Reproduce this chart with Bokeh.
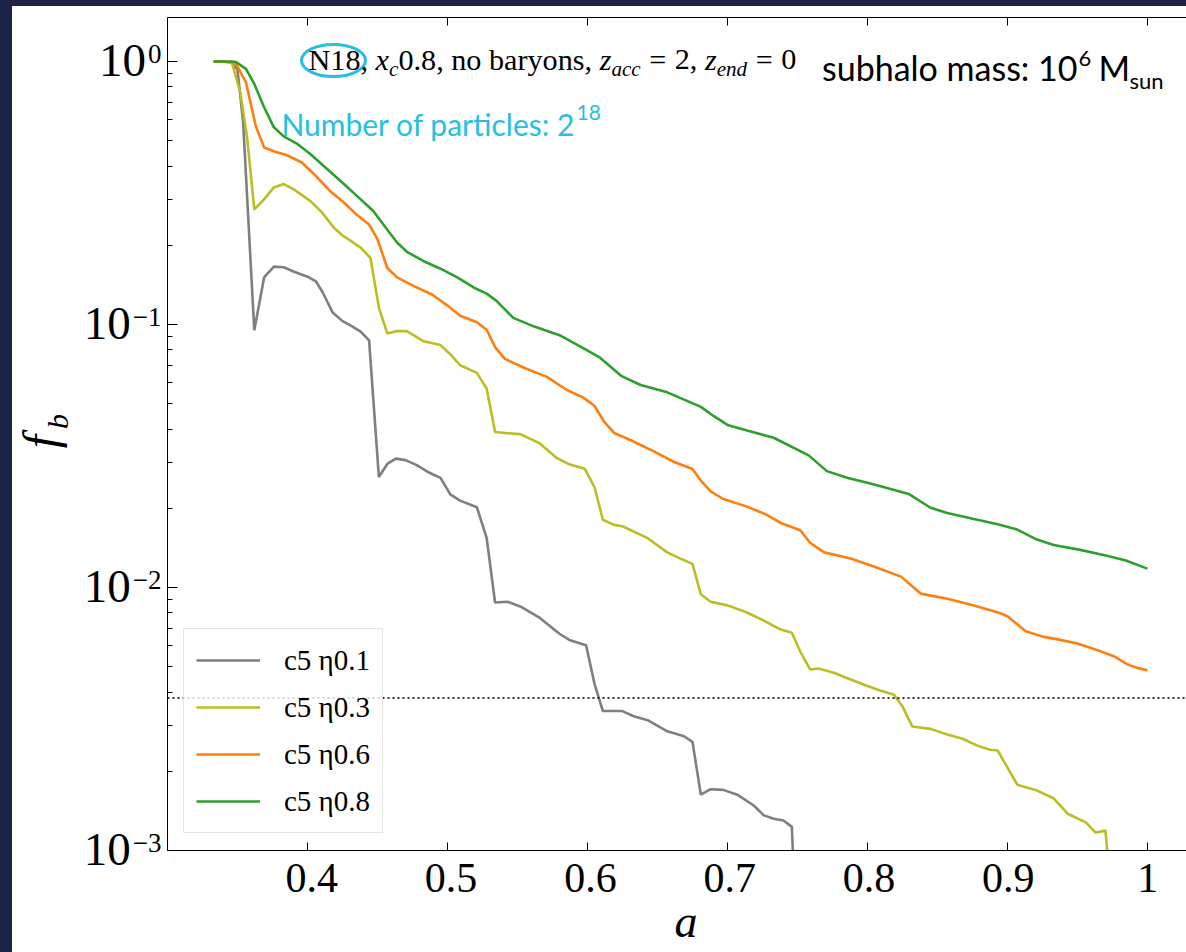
import math
from bokeh.plotting import figure
from bokeh.models import (Range1d, LinearAxis, FixedTicker, Span, Label, Legend,
                          LegendItem, Spacer, CustomJSTickFormatter)
from bokeh.layouts import column, row
from bokeh.embed import file_html
from bokeh.resources import INLINE
from bokeh.core.properties import value

# ---------------- data ----------------
a_eta01 = [0.333, 0.340, 0.346, 0.350, 0.354, 0.362, 0.369, 0.376, 0.383, 0.390,
           0.400, 0.406, 0.411, 0.418, 0.425, 0.431, 0.438, 0.444, 0.451, 0.457,
           0.463, 0.470, 0.478, 0.486, 0.495, 0.502, 0.509, 0.521, 0.528, 0.534,
           0.543, 0.552, 0.566, 0.580, 0.587, 0.599, 0.605, 0.611, 0.625, 0.633,
           0.643, 0.657, 0.669, 0.675, 0.681, 0.688, 0.697, 0.707, 0.719, 0.726,
           0.733, 0.740, 0.746, 0.749]
f_eta01 = [1.0, 1.0, 0.99, 0.93, 0.59, 0.095, 0.151, 0.166, 0.165, 0.159,
           0.152, 0.146, 0.132, 0.111, 0.103, 0.099, 0.094, 0.087, 0.0263, 0.0295,
           0.0309, 0.0305, 0.0292, 0.0275, 0.0261, 0.0226, 0.0214, 0.0202, 0.0154, 0.00877,
           0.00883, 0.00847, 0.00766, 0.00667, 0.00632, 0.00603, 0.00431, 0.00339, 0.00339, 0.00324,
           0.00313, 0.00284, 0.00272, 0.00259, 0.00163, 0.00171, 0.00170, 0.00163, 0.00148, 0.00136,
           0.00132, 0.00130, 0.00123, 0.0005]

a_eta03 = [0.333, 0.340, 0.346, 0.352, 0.357, 0.362, 0.369, 0.376, 0.383, 0.390,
           0.402, 0.410, 0.419, 0.425, 0.432, 0.438, 0.445, 0.451, 0.457, 0.464,
           0.471, 0.483, 0.495, 0.502, 0.509, 0.521, 0.528, 0.534, 0.543, 0.552,
           0.566, 0.578, 0.587, 0.598, 0.605, 0.611, 0.619, 0.625, 0.643, 0.657,
           0.666, 0.675, 0.681, 0.688, 0.700, 0.713, 0.726, 0.738, 0.746, 0.752,
           0.759, 0.765, 0.776, 0.788, 0.799, 0.809, 0.819, 0.825, 0.832, 0.845,
           0.857, 0.868, 0.878, 0.887, 0.893, 0.907, 0.920, 0.933, 0.943, 0.956,
           0.963, 0.970, 0.975]
f_eta03 = [1.0, 1.0, 0.99, 0.764, 0.507, 0.274, 0.299, 0.332, 0.342, 0.327,
           0.295, 0.268, 0.233, 0.218, 0.206, 0.196, 0.179, 0.116, 0.0925, 0.0944,
           0.0944, 0.0863, 0.0835, 0.0771, 0.0700, 0.0655, 0.0570, 0.0390, 0.0386, 0.0383,
           0.0353, 0.0311, 0.0294, 0.0283, 0.0241, 0.0181, 0.0173, 0.0171, 0.0154, 0.0136,
           0.0129, 0.0123, 0.00942, 0.00883, 0.00855, 0.00807, 0.00748, 0.00692, 0.00673, 0.00571,
           0.00488, 0.00492, 0.00474, 0.00447, 0.00424, 0.00406, 0.00391, 0.00353, 0.00296, 0.00290,
           0.00276, 0.00266, 0.00251, 0.00242, 0.00240, 0.00178, 0.00170, 0.00158, 0.00138, 0.00128,
           0.00117, 0.00119, 0.0006]

a_eta06 = [0.333, 0.340, 0.346, 0.349, 0.356, 0.363, 0.369, 0.377, 0.385, 0.396,
           0.406, 0.416, 0.426, 0.435, 0.444, 0.450, 0.457, 0.464, 0.476, 0.489,
           0.500, 0.509, 0.521, 0.528, 0.534, 0.541, 0.555, 0.571, 0.585, 0.597,
           0.605, 0.612, 0.619, 0.631, 0.647, 0.662, 0.675, 0.681, 0.688, 0.697,
           0.714, 0.728, 0.738, 0.752, 0.759, 0.769, 0.788, 0.805, 0.824, 0.838,
           0.857, 0.876, 0.894, 0.900, 0.913, 0.926, 0.936, 0.950, 0.966, 0.976,
           0.986, 0.993, 1.000]
f_eta06 = [1.0, 1.0, 0.995, 0.98, 0.834, 0.570, 0.471, 0.454, 0.441, 0.413,
           0.367, 0.322, 0.291, 0.262, 0.240, 0.211, 0.164, 0.151, 0.140, 0.130,
           0.118, 0.108, 0.102, 0.0955, 0.0820, 0.0740, 0.0683, 0.0632, 0.0565, 0.0527,
           0.0491, 0.0426, 0.0387, 0.0363, 0.0330, 0.0300, 0.0282, 0.0255, 0.0232, 0.0217,
           0.0203, 0.0189, 0.0176, 0.0165, 0.0148, 0.0136, 0.0129, 0.0120, 0.0110, 0.00948,
           0.00906, 0.00855, 0.00802, 0.00778, 0.00682, 0.00649, 0.00635, 0.00612, 0.00573, 0.00548,
           0.00509, 0.00494, 0.00484]

a_eta08 = [0.333, 0.340, 0.346, 0.349, 0.356, 0.362, 0.369, 0.376, 0.383, 0.393,
           0.402, 0.414, 0.426, 0.438, 0.447, 0.455, 0.464, 0.471, 0.483, 0.495,
           0.507, 0.519, 0.528, 0.535, 0.547, 0.562, 0.581, 0.595, 0.609, 0.624,
           0.638, 0.657, 0.681, 0.690, 0.700, 0.714, 0.733, 0.758, 0.771, 0.786,
           0.800, 0.814, 0.830, 0.845, 0.857, 0.876, 0.893, 0.907, 0.920, 0.933,
           0.952, 0.971, 0.984, 1.000]
f_eta08 = [1.0, 1.0, 1.0, 0.995, 0.938, 0.822, 0.670, 0.562, 0.519, 0.485,
           0.445, 0.390, 0.342, 0.299, 0.270, 0.237, 0.205, 0.189, 0.174, 0.163,
           0.151, 0.138, 0.131, 0.123, 0.106, 0.0982, 0.0906, 0.0824, 0.0748, 0.0638,
           0.0589, 0.0552, 0.0486, 0.0449, 0.0415, 0.0395, 0.0371, 0.0318, 0.0277, 0.0261,
           0.0250, 0.0239, 0.0226, 0.0201, 0.0192, 0.0182, 0.0174, 0.0166, 0.0153, 0.0145,
           0.0139, 0.0132, 0.0127, 0.0118]

series_labels = ["c5 η0.1", "c5 η0.3", "c5 η0.6", "c5 η0.8"]
series_colors = ["#7f7f7f", "#bcbd22", "#ff7f0e", "#2ca02c"]
threshold = 0.0038          # dotted line level (1000 particles of 2^18)

x_ticks = [0.4, 0.5, 0.6, 0.7, 0.8, 0.9, 1.0]
x_tick_labels = ["0.4", "0.5", "0.6", "0.7", "0.8", "0.9", "1"]
y_ticks = [0.001, 0.01, 0.1, 1.0]
y_tick_base = ["10", "10", "10", "10"]
y_tick_exp = ["\u22123", "\u22122", "\u22121", "0"]
y_minor = [m * d for d in (0.001, 0.01, 0.1) for m in range(2, 10)]

# ---------------- geometry (page pixels) ----------------
CYAN = "#28BEE2"
SERIF = "Liberation Serif"
SANS = "Lato"
K_SERIF, K_SANS = 0.35, 0.39          # baseline offset below box middle (x font size)
X0, X1 = 0.3, 1.0279
Y0, Y1 = 0.001, 1.47
FL, FT, FB = 167, 17, 850             # frame left / top / bottom on the page
PX_PER_A = 1400.0
DEC = (FB - FT) / (math.log10(Y1) - math.log10(Y0))


def page_to_f(Y):
    return 10 ** (math.log10(Y0) + (FB - Y) / DEC)


def page_to_a(X):
    return X0 + (X - FL) / PX_PER_A


def blank(fig):
    fig.grid.visible = False
    fig.outline_line_color = None
    fig.background_fill_color = "white"
    fig.border_fill_color = "white"


# ---------------- main figure ----------------
p = figure(width=1024, height=849, y_axis_type="log",
           x_range=Range1d(X0, X1), y_range=Range1d(Y0, Y1),
           output_backend="svg", toolbar_location=None,
           min_border_left=5, min_border_right=0, min_border_top=11, min_border_bottom=5)
blank(p)
p.title.visible = False

xa = p.xaxis[0]
xa.ticker = FixedTicker(ticks=x_ticks)
xa.formatter = CustomJSTickFormatter(code="return '';")
xa.major_tick_in = 8
xa.major_tick_out = 0
xa.minor_tick_line_color = None
xa.major_label_text_font_size = "1px"
xa.major_label_standoff = 0
xa.axis_line_color = "black"
xa.major_tick_line_color = "black"

ya = p.yaxis[0]
ya.ticker = FixedTicker(ticks=y_ticks, minor_ticks=y_minor)
ya.formatter = CustomJSTickFormatter(code="return '';")
ya.major_tick_in = 10
ya.major_tick_out = 0
ya.minor_tick_in = 5
ya.minor_tick_out = 0
ya.major_label_text_font_size = "1px"
ya.major_label_standoff = 0
ya.axis_line_color = "black"
ya.major_tick_line_color = "black"
ya.minor_tick_line_color = "black"

top = LinearAxis(ticker=FixedTicker(ticks=x_ticks), formatter=CustomJSTickFormatter(code="return '';"),
                 major_tick_in=8, major_tick_out=0, minor_tick_line_color=None,
                 major_label_text_font_size="1px", major_label_standoff=0,
                 axis_line_color="black", major_tick_line_color="black")
p.add_layout(top, "above")

renderers = []
for a_vals, f_vals, col in zip([a_eta01, a_eta03, a_eta06, a_eta08],
                               [f_eta01, f_eta03, f_eta06, f_eta08], series_colors):
    renderers.append(p.line(a_vals, f_vals, line_color=col, line_width=2.6))

p.add_layout(Span(location=threshold, dimension="width", line_color="#333333",
                  line_dash="2 3", line_width=2.2))

legend = Legend(items=[LegendItem(label=l, renderers=[r]) for l, r in zip(series_labels, renderers)],
                location=(16, 17), margin=0, padding=12, spacing=9,
                glyph_width=64, glyph_height=38, label_height=38, label_standoff=24,
                label_text_font=SERIF, label_text_font_size="29px", label_text_color="black",
                border_line_color="#cccccc", border_line_width=1.2,
                background_fill_color="white", background_fill_alpha=0.8)
p.add_layout(legend)


def lab(txt, X, Ybase, size, font=SERIF, style="normal", color="black", align="left"):
    k = K_SANS if font == SANS else K_SERIF
    Ymid = Ybase - k * size
    p.add_layout(Label(x=X - FL, y=FB - Ymid, x_units="screen", y_units="screen", text=txt,
                       text_font=font, text_font_size=f"{size:.1f}px", text_font_style=style,
                       text_color=color, text_align=align, text_baseline="middle"))


# header line: N18, x_c0.8, no baryons, z_acc = 2, z_end = 0
roman = {'N': .722, '1': .5, '8': .5, ',': .25, ' ': .25, '0': .5, '.': .25, 'n': .5, 'o': .5,
         'b': .5, 'a': .444, 'r': .333, 'y': .5, 's': .389, '=': .564, '2': .5}
ital = {'x': .444, 'c': .444, 'z': .389, 'a': .5, 'e': .444, 'n': .5, 'd': .5}
pieces = [("N18,", "normal", 1.0, 0, 0.0), ("x", "italic", 1.0, 0, 0.25), ("c", "italic", 0.7, 6, 0.0),
          ("0.8, no baryons,", "normal", 1.0, 0, 0.0), ("z", "italic", 1.0, 0, 0.25),
          ("acc", "italic", 0.7, 6, 0.0), ("=", "normal", 1.0, 0, 0.28), ("2,", "normal", 1.0, 0, 0.28),
          ("z", "italic", 1.0, 0, 0.25), ("end", "italic", 0.7, 6, 0.0), ("=", "normal", 1.0, 0, 0.28),
          ("0", "normal", 1.0, 0, 0.28)]
fs = 30.2
X = 308.0
for txt, st, sc, dy, gap in pieces:
    X += gap * fs
    size = fs * sc
    lab(txt, X, 70 + dy, size, style=st)
    table = ital if st == "italic" else roman
    X += sum(table.get(ch, .5) for ch in txt) * size

# ellipse around "N18"
p.ellipse(x=[page_to_a(333)], y=[page_to_f(60)], width=64, height=32,
          width_units="screen", height_units="screen", fill_color=None,
          line_color=CYAN, line_width=3)

# subhalo mass: 10^6 M_sun
lab("subhalo mass: 10", 1077, 80, 34, font=SANS, align="right")
lab("6", 1078, 67, 22, font=SANS)
lab("M", 1098, 80, 34, font=SANS)
lab("sun", 1129, 89, 22, font=SANS)

# Number of particles: 2^18
lab("Number of particles: 2", 575, 135, 30, font=SANS, color=CYAN, align="right")
lab("18", 576, 120, 21, font=SANS, color=CYAN)

# ---------------- left strip: y tick labels and f_b ----------------
LW = 150   # page x 12..162
left = figure(width=LW, height=946, y_axis_type="log",
              x_range=Range1d(0, LW), y_range=Range1d(page_to_f(952), page_to_f(6)),
              x_axis_location=None, y_axis_location=None,
              output_backend="svg", toolbar_location=None,
              min_border=0, min_border_left=0, min_border_right=0, min_border_top=0, min_border_bottom=0)
blank(left)
left.title.visible = False

BASE_FS, EXP_FS = 47, 27
ew = {'0': .5, '1': .5, '2': .5, '3': .5, '\u2212': .564}
exp_w = [sum(ew[c] for c in e) * EXP_FS for e in y_tick_exp]
right_edge = 161 - 12
left.text(x=[right_edge - w - 2 for w in exp_w], y=y_ticks, text=y_tick_base,
          text_font=value(SERIF), text_font_size=value(f"{BASE_FS}px"), text_color="black",
          text_align="right", text_baseline="middle",
          y_offset=0.33 * BASE_FS - K_SERIF * BASE_FS)
left.text(x=[right_edge] * len(y_ticks), y=y_ticks, text=y_tick_exp,
          text_font=value(SERIF), text_font_size=value(f"{EXP_FS}px"), text_color="black",
          text_align="right", text_baseline="middle",
          y_offset=-0.33 * BASE_FS + 0.66 * EXP_FS - K_SERIF * EXP_FS)

# y axis label f_b (rotated)
F_FS, B_FS = 48, 30
left.text(x=[56.5 - K_SERIF * F_FS - 12], y=[page_to_f(441)], text=["f"], angle=math.pi / 2,
          text_font=value(SERIF), text_font_style="italic", text_font_size=value(f"{F_FS}px"),
          text_color="black", text_align="center", text_baseline="middle")
left.text(x=[67 - K_SERIF * B_FS - 12], y=[page_to_f(421)], text=["b"], angle=math.pi / 2,
          text_font=value(SERIF), text_font_style="italic", text_font_size=value(f"{B_FS}px"),
          text_color="black", text_align="center", text_baseline="middle")

# ---------------- bottom strip: x tick labels and a ----------------
BW, BH = 1024, 97   # page x 162..1186, y 855..952
bottom = figure(width=BW, height=BH, x_range=Range1d(page_to_a(162), page_to_a(162 + BW)),
                y_range=Range1d(952, 855), x_axis_location=None, y_axis_location=None,
                output_backend="svg", toolbar_location=None,
                min_border=0, min_border_left=0, min_border_right=0, min_border_top=0, min_border_bottom=0)
blank(bottom)
bottom.title.visible = False

XT_FS = 42
bottom.text(x=x_ticks, y=[892 - K_SERIF * XT_FS] * len(x_ticks), text=x_tick_labels,
            text_font=value(SERIF), text_font_size=value(f"{XT_FS}px"), text_color="black",
            text_align="center", text_baseline="middle")
A_FS = 46
bottom.text(x=[page_to_a(683)], y=[937 - K_SERIF * A_FS], text=["a"],
            text_font=value(SERIF), text_font_style="italic", text_font_size=value(f"{A_FS}px"),
            text_color="black", text_align="center", text_baseline="middle")

# ---------------- page ----------------
BG = "#1b2348"
page = column(Spacer(width=1186, height=6, styles={"background-color": BG}),
              row(Spacer(width=12, height=946, styles={"background-color": BG}),
                  left, column(p, bottom, styles={"background-color": "white"}),
                  styles={"background-color": "white"}),
              styles={"background-color": "white"})

open("out.html", "w").write(file_html(page, INLINE))
